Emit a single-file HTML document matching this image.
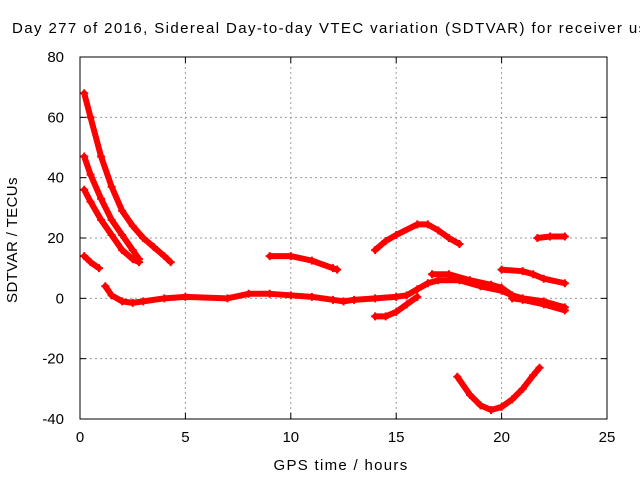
<!DOCTYPE html>
<html><head><meta charset="utf-8"><style>
html,body{margin:0;padding:0;background:#fff}
svg{display:block;font-family:"Liberation Sans",sans-serif}
</style></head><body>
<svg id="chart" width="640" height="480" viewBox="0 0 640 480">
<text x="12" y="33" font-size="15" letter-spacing="1.4" fill="#000">Day 277 of 2016, Sidereal Day-to-day VTEC variation (SDTVAR) for receiver us</text>
<g id="grid"></g>
<g id="axes"></g>
<g id="series"></g>
<rect x="80" y="57" width="527" height="362" fill="none" stroke="#000" stroke-width="1"/>
<text x="17" y="240" font-size="15" letter-spacing="0.4" text-anchor="middle" transform="rotate(-90 17 240)">SDTVAR / TECUs</text>
<text x="341" y="470" font-size="15" letter-spacing="1.3" text-anchor="middle">GPS time / hours</text>
</svg>
<script>
const xTicks=[0,5,10,15,20,25];
const yTicks=[-40,-20,0,20,40,60,80];
const arcA=[[0.2,68],[0.5,60],[1,47],[1.5,37],[2,29],[2.5,24],[3,20],[3.5,17],[4,14],[4.3,12]];
const arcB=[[0.2,47],[0.5,41],[1,33],[1.5,26],[2,21],[2.5,16],[2.8,13]];
const arcC=[[0.2,36],[0.5,32],[1,26],[1.5,21],[2,16],[2.5,13],[2.8,12]];
const arcD=[[0.2,14],[0.5,12],[0.9,10]];
const arcE=[[1.2,4],[1.5,1],[2,-1],[2.5,-1.5],[3,-1],[4,0],[5,0.5],[7,0],[8,1.5],[9,1.5],[10,1],[11,0.5],[12,-0.5],[12.5,-1],[13,-0.5],[14,0],[15,0.5],[15.5,1],[16,3],[16.5,5],[17,6],[18,6],[19,4],[20,2.5],[20.5,1],[21,0],[22,-1],[23,-3]];
const arcF=[[9,14],[10,14],[11,12.5],[12,10],[12.2,9.5]];
const arcG=[[14,16],[14.5,19],[15,21],[16,24.5],[16.5,24.5],[17,22.5],[17.5,20],[18,18]];
const arcH=[[14,-6],[14.5,-6],[15,-4.5],[15.5,-2],[16,0.5]];
const arcI=[[16.7,8],[17.5,8],[18.5,6],[19.5,4.5],[20,3.5],[20.5,1]];
const arcK=[[20,9.5],[21,9],[21.5,8],[22,6.5],[23,5]];
const arcL=[[21.7,20],[22.3,20.5],[23,20.5]];
const arcM=[[17.9,-26],[18.5,-32],[19,-35.5],[19.5,-37],[20,-36],[20.5,-33.5],[21,-30],[21.5,-25.5],[21.8,-23]];
const arcN=[[20.5,0],[21,-0.5],[22,-2],[23,-4]];
const allArcs=[arcA,arcB,arcC,arcD,arcE,arcF,arcG,arcH,arcI,arcK,arcL,arcM,arcN];

const NS="http://www.w3.org/2000/svg";
const X=t=>80+t*(527/25);
const Y=v=>419-(v+40)*(362/120);
function mk(tag,attrs,parent){const e=document.createElementNS(NS,tag);for(const k in attrs)e.setAttribute(k,attrs[k]);parent.appendChild(e);return e;}
const grid=document.getElementById('grid'),axes=document.getElementById('axes'),ser=document.getElementById('series');
xTicks.forEach(t=>{
  const x=X(t);
  if(t>0&&t<25){const g=mk('line',{x1:x,x2:x,y1:57,y2:419,stroke:'#999','stroke-dasharray':'2,3'},grid);
  
  }
  mk('line',{x1:x,x2:x,y1:419,y2:413,stroke:'#000'},axes);
  mk('line',{x1:x,x2:x,y1:57,y2:63,stroke:'#000'},axes);
  const l=mk('text',{x:x,y:442,'font-size':15,'text-anchor':'middle'},axes);l.textContent=t;
  
  
});
yTicks.forEach(v=>{
  const y=Y(v);
  if(v>-40&&v<80){const g=mk('line',{x1:80,x2:607,y1:y,y2:y,stroke:'#999','stroke-dasharray':'2,3'},grid);
  
  }
  mk('line',{x1:80,x2:86,y1:y,y2:y,stroke:'#000'},axes);
  mk('line',{x1:601,x2:607,y1:y,y2:y,stroke:'#000'},axes);
  const l=mk('text',{x:64,y:y+5,'font-size':15,'text-anchor':'end'},axes);l.textContent=v;
  
  
});
allArcs.forEach(arc=>{
  const p=mk('polyline',{points:arc.map(d=>X(d[0])+','+Y(d[1])).join(' '),fill:'none',stroke:'#f00','stroke-width':6,'stroke-linejoin':'round','stroke-linecap':'round'},ser);
  
  
  arc.forEach(d=>{
    const x=X(d[0]),y=Y(d[1]);
    const m=mk('path',{d:`M${x-4},${y}H${x+4}M${x},${y-4}V${y+4}`,stroke:'#f00','stroke-width':2},ser);
    
    
  });
});
</script>
</body></html>
